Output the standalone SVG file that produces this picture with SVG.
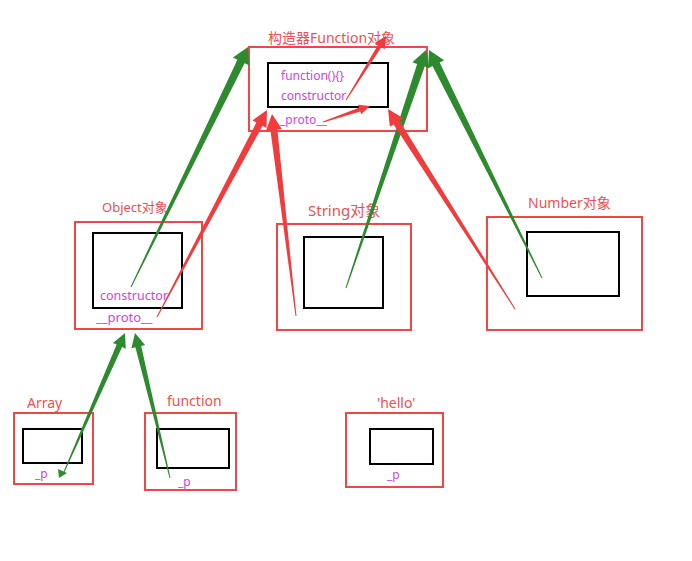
<svg xmlns="http://www.w3.org/2000/svg" width="692" height="561" viewBox="0 0 692 561">
<style>
.outer{fill:none;stroke:#ef4646;stroke-width:2}
.inner{fill:none;stroke:#000;stroke-width:2}
.title{fill:#ef4f4f;font-family:"Noto Sans","Noto Sans CJK SC",sans-serif}
.prop{fill:#d13fe8;font-family:"Noto Sans","Noto Sans CJK SC",sans-serif}
.g{fill:#2e8a2e}
.r{fill:#f03c3c}
</style>
<rect width="692" height="561" fill="#fff"/>
<g id="function-obj">
<rect class="outer" x="249" y="47" width="178" height="84"/>
<rect class="inner" x="268" y="63" width="120" height="44"/>
<text class="title" x="268" y="43" font-size="14">构造器Function对象</text>
<text class="prop" x="281" y="80" font-size="12">function(){}</text>
<text class="prop" x="281" y="100" font-size="12">constructor</text>
<text class="prop" x="280" y="124" font-size="12">_proto__</text>
</g>
<g id="object-obj">
<rect class="outer" x="75" y="222" width="127" height="107"/>
<rect class="inner" x="93" y="233" width="89" height="75"/>
<text class="title" x="102" y="212" font-size="13">Object对象</text>
<text class="prop" x="100" y="300" font-size="12.5">constructor</text>
<text class="prop" x="96" y="322" font-size="13">__proto__</text>
</g>
<g id="string-obj">
<rect class="outer" x="277" y="224" width="134" height="106"/>
<rect class="inner" x="304" y="237" width="79" height="71"/>
<text class="title" x="308" y="216" font-size="15">String对象</text>
</g>
<g id="number-obj">
<rect class="outer" x="487" y="217" width="155" height="113"/>
<rect class="inner" x="527" y="232" width="92" height="64"/>
<text class="title" x="528" y="208" font-size="14">Number对象</text>
</g>
<g id="array-obj">
<rect class="outer" x="14" y="413" width="79" height="71"/>
<rect class="inner" x="23" y="429" width="59" height="34"/>
<text class="title" x="27" y="408" font-size="14">Array</text>
<text class="prop" x="35" y="478" font-size="12">_p</text>
</g>
<g id="function-inst">
<rect class="outer" x="145" y="413" width="91" height="77"/>
<rect class="inner" x="157" y="429" width="72" height="39"/>
<text class="title" x="167" y="406" font-size="14">function</text>
<text class="prop" x="178" y="486" font-size="12">_p</text>
</g>
<g id="hello-obj">
<rect class="outer" x="346" y="413" width="97" height="74"/>
<rect class="inner" x="370" y="429" width="63" height="35"/>
<text class="title" x="377" y="408" font-size="14">'hello'</text>
<text class="prop" x="387" y="479" font-size="12">_p</text>
</g>
<g id="connectors">
<polygon class="g" points="131.45,287.22 244.59,63.13 249.08,65.32 248,47 232.90,57.44 237.39,59.63 130.55,286.78"/>
<polygon class="g" points="346.47,288.16 424.69,66.43 429.43,68.03 426,50 412.37,62.29 417.11,63.89 345.53,287.84"/>
<polygon class="g" points="542.45,277.78 439.68,62.55 444.16,60.33 429,50 428.04,68.33 432.52,66.11 541.55,278.22"/>
<polygon class="g" points="64.46,472.20 122.12,347.03 125.78,348.63 125,333 112.96,343.01 116.62,344.61 63.54,471.80"/>
<polygon class="g" points="59,478 58,469 67,473"/>
<polygon class="g" points="170.49,477.88 141.20,345.91 145.08,344.97 135,333 131.48,348.25 135.36,347.31 169.51,478.12"/>
<polygon class="r" points="346.42,100.27 381.34,47.24 384.73,49.36 386,36 374.55,43.0 377.94,45.12 345.58,99.74"/>
<polygon class="r" points="323.16,122.47 360.23,111.44 361.20,114.28 370,106 357.98,104.82 358.95,107.66 322.84,121.53"/>
<polygon class="r" points="157.44,317.23 262.58,125.77 266.55,127.88 267,110 252.43,120.38 256.40,122.49 156.56,316.77"/>
<polygon class="r" points="296.50,315.94 277.37,129.48 281.84,128.95 272,114 265.94,130.83 270.41,130.30 295.50,316.06"/>
<polygon class="r" points="515.42,308.73 399.53,120.63 403.33,118.22 388,109 389.83,126.80 393.63,124.39 514.58,309.27"/>
</g>
</svg>
